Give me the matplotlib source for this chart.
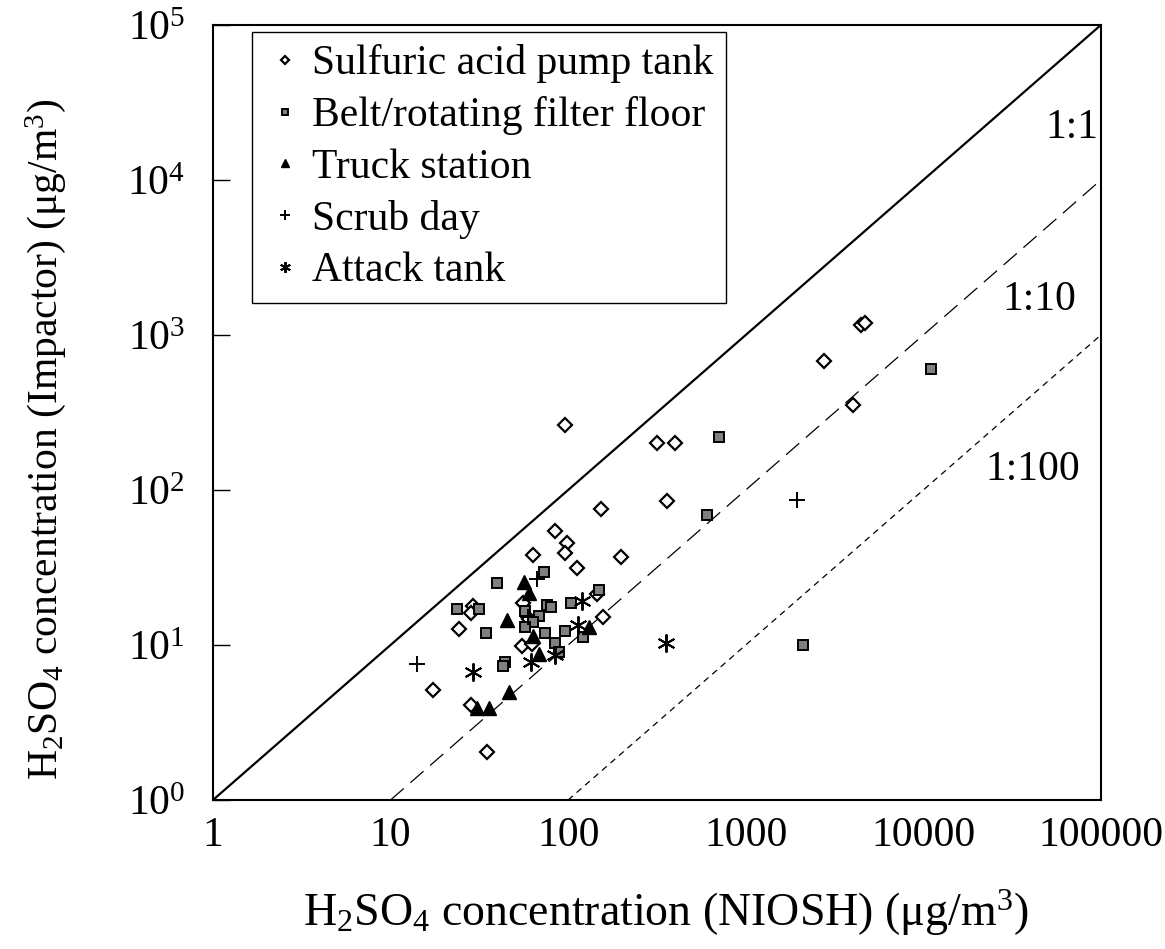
import matplotlib
matplotlib.use('Agg')
import matplotlib.pyplot as plt
import numpy as np

plt.rcParams['font.family'] = ['Liberation Serif', 'DejaVu Serif']
plt.rcParams['mathtext.fontset'] = 'custom'
plt.rcParams['mathtext.rm'] = 'Liberation Serif'
plt.rcParams['mathtext.it'] = 'Liberation Serif:italic'

# Sulfuric acid pump tank
pump_x = [84.3, 98.1, 95.9, 63.6, 112.5, 198.3, 55.9, 29.0, 28.2, 24.4, 144.7, 156.4,
          54.7, 62.3, 60.4, 17.4, 28.2, 35.0, 95.9, 315, 399.5, 152.4, 358.6, 2767,
          4436, 4690, 3999]
pump_y = [54.4, 45.5, 39.0, 38.1, 31.5, 36.8, 18.7, 17.8, 16.0, 12.6, 21.3, 15.1,
          9.85, 10.15, 14.7, 5.12, 4.10, 2.05, 261.5, 200, 200, 75.1, 84.5, 679,
          1160, 1200, 352]

# Belt/rotating filter floor
belt_x = [73.1, 39.9, 23.7, 31.6, 57.1, 75.7, 80.0, 68.8, 63.6, 57.1, 74.0, 95.9,
          103.3, 149.7, 120.7, 84.3, 89.1, 34.3, 44.1, 43.1, 709.5, 602.5, 10990, 2099]
belt_y = [29.7, 25.0, 17.0, 17.0, 16.6, 18.1, 17.5, 15.4, 14.1, 13.0, 11.9, 12.4,
          18.6, 22.6, 11.2, 10.3, 9.06, 11.9, 7.8, 7.32, 218.8, 68.7, 601, 9.95]

# Truck station
truck_x = [56.4, 60.4, 45.4, 63.1, 68.8, 131.5, 46.6, 30.8, 35.9]
truck_y = [25.6, 21.8, 14.5, 11.4, 8.75, 13.0, 5.0, 3.9, 3.9]

# Scrub day
scrub_x = [66.5, 14.1, 1935, 59.4]
scrub_y = [26.5, 7.54, 86.6, 15.2]

# Attack tank
attack_x = [119.1, 114, 84.3, 61.5, 29.2, 355]
attack_y = [19.3, 13.5, 8.62, 7.8, 6.73, 10.3]

x_ticks = [1, 10, 100, 1000, 10000, 100000]
x_tick_labels = ['1', '10', '100', '1000', '10000', '100000']
y_ticks = [1, 10, 100, 1000, 10000, 100000]
y_tick_labels = [r'$\mathregular{10^{%d}}$' % i for i in range(6)]

FS = 30

fig = plt.figure(figsize=(11.65, 9.49), dpi=100)
ax = fig.add_axes([0.1828, 0.157, 0.7622, 0.8167])

# reference lines
lx = np.array([1, 100000])
ax.plot(lx, lx, color='black', lw=1.6, zorder=1)
lx10 = np.array([10, 100000])
ax.plot(lx10, lx10 / 10, color='black', lw=0.9, dashes=(14, 7), zorder=1)
lx100 = np.array([100, 100000])
ax.plot(lx100, lx100 / 100, color='black', lw=0.9, dashes=(5, 4), zorder=1)

ax.plot(pump_x, pump_y, ls='none', marker='D', ms=7, mfc='white', mec='black', mew=1.6,
        label='Sulfuric acid pump tank')
ax.plot(belt_x, belt_y, ls='none', marker='s', ms=7.5, mfc='#808080', mec='black', mew=1.4,
        label='Belt/rotating filter floor')
ax.plot(truck_x, truck_y, ls='none', marker='^', ms=10.5, mfc='black', mec='black',
        label='Truck station')
ax.plot(scrub_x, scrub_y, ls='none', marker='+', ms=11, mec='black', mew=1.4,
        label='Scrub day')
ax.plot(attack_x, attack_y, ls='none', marker=(6, 2, 0), ms=13, mec='black', mew=1.4,
        label='Attack tank')

ax.set_xscale('log')
ax.set_yscale('log')
ax.set_xlim(1, 100000)
ax.set_ylim(1, 100000)
ax.set_xticks(x_ticks)
ax.set_xticklabels(x_tick_labels)
ax.set_yticks(y_ticks)
ax.set_yticklabels(y_tick_labels)
ax.minorticks_off()
ax.tick_params(axis='x', length=0, pad=12, labelsize=FS)
ax.tick_params(axis='y', direction='in', length=12, width=1, pad=20, labelsize=FS)
for sp in ax.spines.values():
    sp.set_linewidth(1.5)

ax.text(0.967, 0.867, '1:1', transform=ax.transAxes, ha='center', va='center', fontsize=FS)
ax.text(0.931, 0.645, '1:10', transform=ax.transAxes, ha='center', va='center', fontsize=FS)
ax.text(0.923, 0.426, '1:100', transform=ax.transAxes, ha='center', va='center', fontsize=FS)

ax.set_xlabel(r'H$\mathregular{_2}$SO$\mathregular{_4}$ concentration (NIOSH) (μg/m$\mathregular{^3}$)',
              fontsize=33, va='center')
ax.xaxis.set_label_coords(0.51, -0.145)
ax.set_ylabel(r'H$\mathregular{_2}$SO$\mathregular{_4}$ concentration (Impactor) (μg/m$\mathregular{^3}$)',
              fontsize=FS, va='center')
ax.yaxis.set_label_coords(-0.189, 0.465)

leg = ax.legend(loc='upper left', bbox_to_anchor=(0.044, 0.991), borderaxespad=0,
                fontsize=FS, fancybox=False, edgecolor='black', framealpha=1,
                markerscale=0.6, handlelength=1.0, handletextpad=0.15,
                labelspacing=0.31, borderpad=0.3)
leg.get_frame().set_linewidth(1.0)

plt.savefig('out.png', dpi=100)
